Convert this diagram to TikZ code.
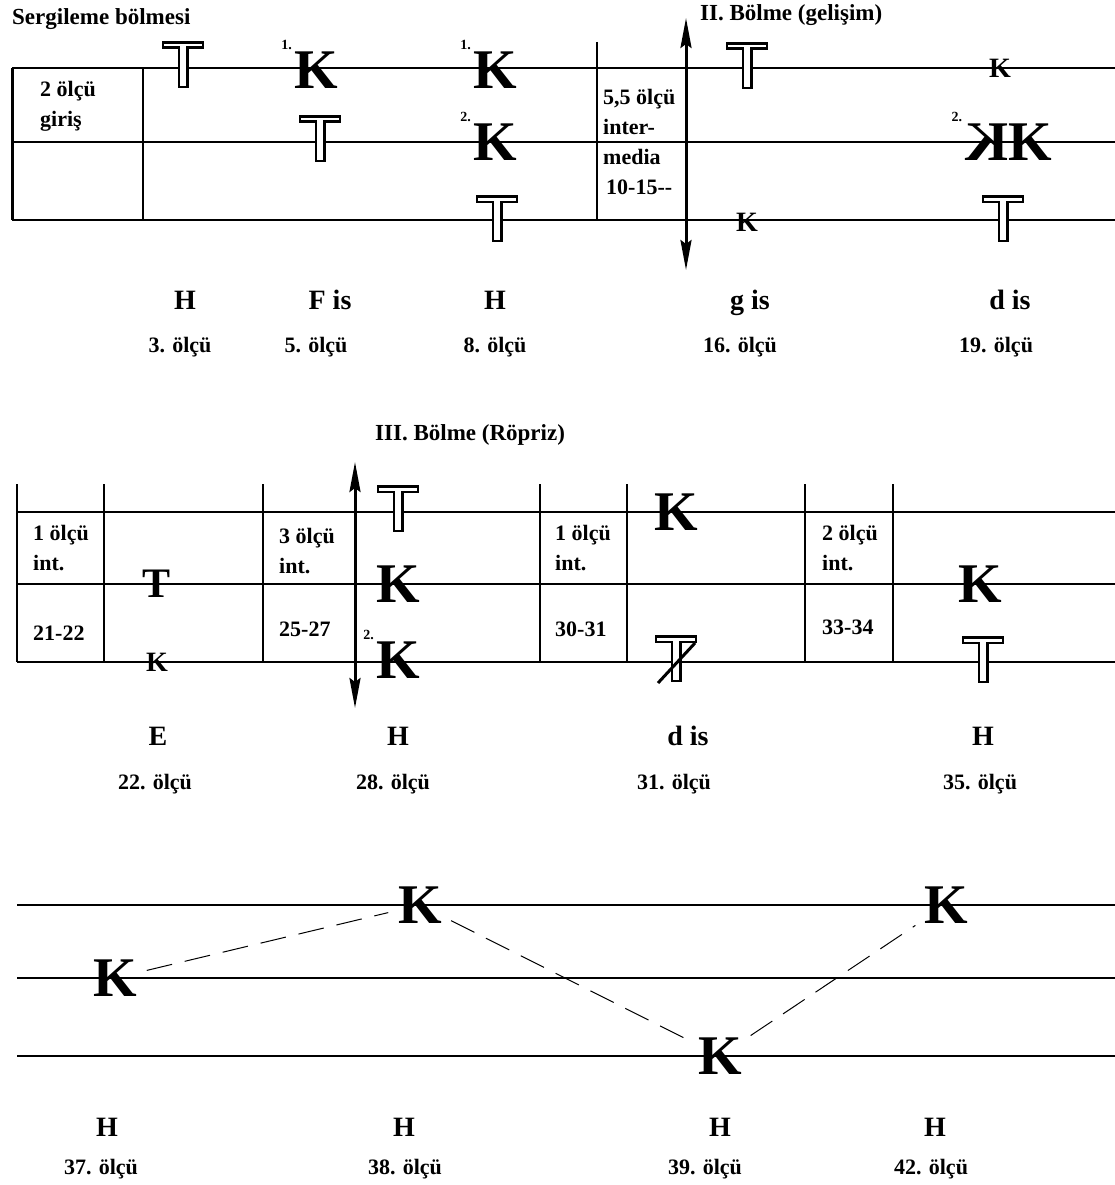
\documentclass[tikz,border=0pt]{standalone}
\usepackage{fontspec}
\usepackage{graphicx}
\setmainfont{Liberation Serif}
\usetikzlibrary{arrows.meta,positioning}

\tikzset{
  staff/.style={line width=1.5pt},
  bar/.style={line width=1.2pt},
  dblarrow/.style={line width=3pt,
    {Stealth[length=30pt,width=11pt,inset=4pt]}-{Stealth[length=30pt,width=11pt,inset=4pt]}},
  title/.style={font=\bfseries\fontsize{23}{27}\selectfont,anchor=base west,inner sep=0pt},
  cell/.style={font=\bfseries\fontsize{22}{30}\selectfont,align=left,anchor=north west,inner sep=0pt},
  celltext/.style={font=\bfseries\fontsize{22}{26}\selectfont,anchor=base west,inner sep=0pt},
  tone/.style={font=\bfseries\fontsize{28}{32}\selectfont,anchor=base,inner sep=0pt},
  measure/.style={font=\bfseries\fontsize{22}{26}\selectfont,anchor=base,inner sep=0pt},
  bigk/.style={font=\bfseries\fontsize{56}{60}\selectfont,inner sep=2pt},
  smallk/.style={font=\bfseries\fontsize{28}{32}\selectfont,inner sep=0pt},
  solidt/.style={font=\bfseries\fontsize{42}{46}\selectfont,inner sep=0pt},
  num/.style={font=\bfseries\fontsize{14}{16}\selectfont,anchor=base east,inner sep=0pt},
  link/.style={line width=1pt,dash pattern=on 26pt off 13pt,shorten <=8pt,shorten >=8pt},
  tsign/.pic={
    \draw[line width=2.6pt,fill=white] (-20,1.3) -- (20,1.3) -- (20,6.8) -- (4.2,6.8) -- (4.2,46)
      -- (-4.2,46) -- (-4.2,6.8) -- (-20,6.8) -- cycle;
  }
}

\begin{document}
\begin{tikzpicture}[x=1pt,y=-1pt]
  \useasboundingbox (0,0) rectangle (1115,1185);

  % Sergileme bolmesi
  \node[title] (s1) at (12,25) {Sergileme bölmesi};
  \node[title] (s2) at (700,21) {II. Bölme (gelişim)};
  % Linien
  \draw[staff] (12,68) -- (1115,68);
  \draw[staff] (12,142) -- (1115,142);
  \draw[staff] (12,220) -- (1115,220);
  \draw[line width=3pt] (12,68) -- (12,220);
  \draw[line width=2pt] (143,68) -- (143,220);
  \draw[bar] (597,42) -- (597,220);
  \draw[dblarrow] (686,18) -- (686,270);
  % Zellen
  \node[cell] (c1) at (40,81) {2 ölçü\\giriş};
  \node[cell] (c2) at (603,89) {5,5 ölçü\\inter-\\media\\\hspace*{3pt}10-15-{}-};
  % Noten
  \pic at (183,41) {tsign};
  \pic at (320,115) {tsign};
  \pic at (497,195) {tsign};
  \pic at (747,42) {tsign};
  \pic at (1003,195) {tsign};
  \node[bigk] (k1) at (316,70) {K};
  \node[num] (n1) at (k1.north west) {1.};
  \node[bigk] (k2) at (495,70) {K};
  \node[num] (n2) at (k2.north west) {1.};
  \node[bigk] (k3) at (495,142) {K};
  \node[num] (n3) at (k3.north west) {2.};
  \node[smallk] (k4) at (747,222) {K};
  \node[smallk] (k5) at (1000,68) {K};
  \node[bigk] (k6) at (1008,142) {\reflectbox{K}K};
  \node[num] (n4) at (k6.north west) {2.};
  % Tonarten
  \node[tone] (h1) at (185,309) {H};
  \node[tone] (h2) at (330,309) {F is};
  \node[tone] (h3) at (495,309) {H};
  \node[tone] (h4) at (750,309) {g is};
  \node[tone] (h5) at (1010,309) {d is};
  \node[measure] (m1) at (180,352) {3. ölçü};
  \node[measure] (m2) at (316,352) {5. ölçü};
  \node[measure] (m3) at (495,352) {8. ölçü};
  \node[measure] (m4) at (740,352) {16. ölçü};
  \node[measure] (m5) at (996,352) {19. ölçü};

  % Ropriz
  \node[title] (s3) at (375,440) {III. Bölme (Röpriz)};
  % Linien
  \draw[staff] (17,512) -- (1115,512);
  \draw[staff] (17,584) -- (1115,584);
  \draw[staff] (17,662) -- (1115,662);
  \draw[bar] (17,484) -- (17,662);
  \draw[bar] (104,484) -- (104,662);
  \draw[bar] (263,484) -- (263,662);
  \draw[bar] (540,484) -- (540,662);
  \draw[bar] (627,484) -- (627,662);
  \draw[bar] (805,484) -- (805,662);
  \draw[bar] (893,484) -- (893,662);
  \draw[dblarrow] (355,462) -- (355,708);
  % Zellen
  \node[cell] (c3) at (33,525) {1 ölçü\\int.};
  \node[celltext] (c4) at (33,640) {21-22};
  \node[cell] (c5) at (279,528) {3 ölçü\\int.};
  \node[celltext] (c6) at (279,636) {25-27};
  \node[cell] (c7) at (555,525) {1 ölçü\\int.};
  \node[celltext] (c8) at (555,636) {30-31};
  \node[cell] (c9) at (822,525) {2 ölçü\\int.};
  \node[celltext] (c10) at (822,634) {33-34};
  % Noten
  \node[solidt] (k7) at (157,584) {T};
  \node[smallk] (k8) at (157,662) {K};
  \pic at (398,485) {tsign};
  \node[bigk] (k9) at (398,584) {K};
  \node[bigk] (k10) at (398,660) {K};
  \node[num] (n5) at (k10.north west) {2.};
  \node[bigk] (k11) at (676,512) {K};
  \pic at (676,635) {tsign};
  \coordinate (x1) at (658,683);
  \coordinate (x2) at (695,643);
  \draw[line width=3pt] (x1) -- (x2);
  \node[bigk] (k12) at (980,584) {K};
  \pic at (983,636) {tsign};
  % Tonarten
  \node[tone] (h6) at (158,745) {E};
  \node[tone] (h7) at (398,745) {H};
  \node[tone] (h8) at (688,745) {d is};
  \node[tone] (h9) at (983,745) {H};
  \node[measure] (m6) at (155,789) {22. ölçü};
  \node[measure] (m7) at (393,789) {28. ölçü};
  \node[measure] (m8) at (674,789) {31. ölçü};
  \node[measure] (m9) at (980,789) {35. ölçü};

  % Koda
  \draw[staff] (17,905) -- (1115,905);
  \draw[staff] (17,978) -- (1115,978);
  \draw[staff] (17,1056) -- (1115,1056);
  \node[bigk] (b1) at (115,978) {K};
  \node[bigk] (b2) at (420,905) {K};
  \node[bigk] (b3) at (720,1056) {K};
  \node[bigk] (b4) at (946,905) {K};
  \draw[link] (b1) -- (b2);
  \draw[link] (b2) -- (b3);
  \draw[link] (b3) -- (b4);
  % Tonarten
  \node[tone] (h10) at (107,1136) {H};
  \node[tone] (h11) at (404,1136) {H};
  \node[tone] (h12) at (720,1136) {H};
  \node[tone] (h13) at (935,1136) {H};
  \node[measure] (m10) at (101,1174) {37. ölçü};
  \node[measure] (m11) at (405,1174) {38. ölçü};
  \node[measure] (m12) at (705,1174) {39. ölçü};
  \node[measure] (m13) at (931,1174) {42. ölçü};
\end{tikzpicture}
\end{document}
